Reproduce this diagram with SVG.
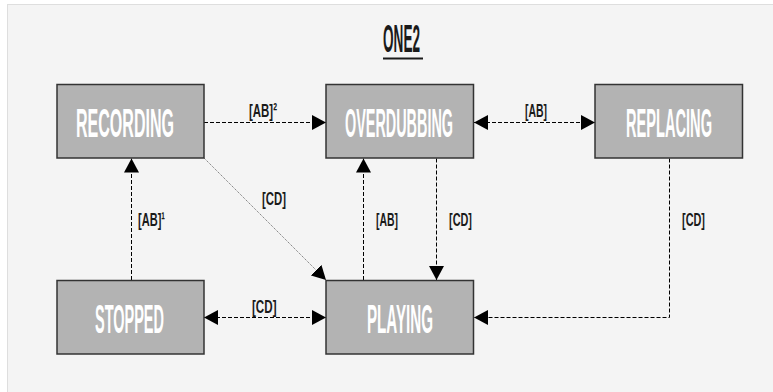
<svg xmlns="http://www.w3.org/2000/svg" width="773" height="392" viewBox="0 0 773 392">
  <style>
    .node rect { fill: #b3b3b3; stroke: #333333; stroke-width: 1.5; }
    .node text { font-family: "Liberation Sans", Arial, sans-serif; font-size: 40px; font-weight: bold; fill: #ffffff; }
    .lbl { font-family: "Liberation Sans", Arial, sans-serif; font-size: 19px; font-weight: bold; fill: #1a1a1a; }
    .title { font-family: "Liberation Sans", Arial, sans-serif; font-size: 38px; font-weight: bold; fill: #1a1a1a; }
    .dash { fill: none; stroke: #000; stroke-width: 1; stroke-dasharray: 4 2; }
    .dot { fill: none; stroke: #555; stroke-width: 0.8; stroke-dasharray: 1.2 1; }
  </style>
  <defs>
    <marker id="arr" viewBox="0 0 14 15" refX="14" refY="7.5" markerWidth="14" markerHeight="15" markerUnits="userSpaceOnUse" orient="auto-start-reverse">
      <path d="M0,0 L14,7.5 L0,15 Z" fill="#000"/>
    </marker>
  </defs>

  <rect x="0" y="0" width="773" height="392" fill="#ffffff"/>
  <rect x="7.5" y="4.5" width="800" height="400" fill="#f4f4f4" stroke="#dedede" stroke-width="1"/>

  <g id="title">
    <text class="title" x="383" y="52" textLength="37" lengthAdjust="spacingAndGlyphs">ONE2</text>
    <rect x="383" y="57.5" width="40" height="2" fill="#1a1a1a"/>
  </g>

  <g id="connectors">
    <line class="dash" x1="204" y1="122.5" x2="326" y2="122.5" marker-end="url(#arr)"/>
    <line class="dash" x1="474" y1="122.5" x2="595" y2="122.5" marker-start="url(#arr)" marker-end="url(#arr)"/>
    <line class="dash" x1="131.5" y1="280" x2="131.5" y2="158.5" marker-end="url(#arr)"/>
    <line class="dash" x1="363.5" y1="280" x2="363.5" y2="158.5" marker-end="url(#arr)"/>
    <line class="dash" x1="436.5" y1="158.5" x2="436.5" y2="280" marker-end="url(#arr)"/>
    <path class="dash" d="M669.5,158.5 V317.5 H474" marker-end="url(#arr)"/>
    <line class="dash" x1="204" y1="317.5" x2="326" y2="317.5" marker-start="url(#arr)" marker-end="url(#arr)"/>
    <line class="dot" x1="204" y1="158" x2="326" y2="280" marker-end="url(#arr)"/>

    <text class="lbl" x="249" y="117" textLength="28" lengthAdjust="spacingAndGlyphs">[AB]²</text>
    <text class="lbl" x="525" y="117" textLength="22" lengthAdjust="spacingAndGlyphs">[AB]</text>
    <text class="lbl" x="138" y="226" textLength="27" lengthAdjust="spacingAndGlyphs">[AB]¹</text>
    <text class="lbl" x="262" y="205" textLength="24" lengthAdjust="spacingAndGlyphs">[CD]</text>
    <text class="lbl" x="376" y="226" textLength="22" lengthAdjust="spacingAndGlyphs">[AB]</text>
    <text class="lbl" x="449" y="226" textLength="23" lengthAdjust="spacingAndGlyphs">[CD]</text>
    <text class="lbl" x="682" y="226" textLength="23" lengthAdjust="spacingAndGlyphs">[CD]</text>
    <text class="lbl" x="252" y="312.5" textLength="24.5" lengthAdjust="spacingAndGlyphs">[CD]</text>
  </g>

  <g id="recording" class="node">
    <rect x="57" y="84.5" width="147" height="73.5"/>
    <text x="76" y="137" textLength="98" lengthAdjust="spacingAndGlyphs">RECORDING</text>
  </g>
  <g id="overdubbing" class="node">
    <rect x="326" y="84.5" width="147.5" height="73.5"/>
    <text x="345" y="137" textLength="108" lengthAdjust="spacingAndGlyphs">OVERDUBBING</text>
  </g>
  <g id="replacing" class="node">
    <rect x="595" y="84.5" width="147.5" height="73.5"/>
    <text x="626" y="137" textLength="86" lengthAdjust="spacingAndGlyphs">REPLACING</text>
  </g>
  <g id="stopped" class="node">
    <rect x="57" y="280.5" width="147" height="73.5"/>
    <text x="95" y="333" textLength="69" lengthAdjust="spacingAndGlyphs">STOPPED</text>
  </g>
  <g id="playing" class="node">
    <rect x="326" y="280.5" width="147.5" height="73.5"/>
    <text x="367" y="333" textLength="66" lengthAdjust="spacingAndGlyphs">PLAYING</text>
  </g>
</svg>
